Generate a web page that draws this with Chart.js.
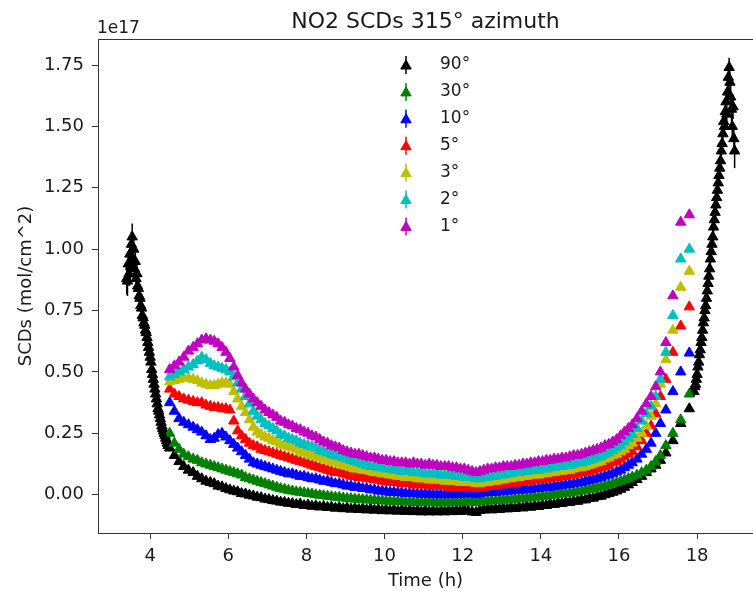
<!DOCTYPE html>
<html>
<head>
<meta charset="utf-8">
<script src="https://cdn.jsdelivr.net/npm/chart.js@4.4.1/dist/chart.umd.min.js"></script>
<style>
  html, body { margin: 0; padding: 0; background: #fff; overflow: hidden; width: 753px; height: 591px; }
  canvas { display: block; }
</style>
</head>
<body>
<canvas id="scd" width="762" height="591"></canvas>
<script>
// --- Data: NO2 slant columns, units of 1e17 molec/cm^2, time in hours ---
// elevation scan times (shared by the 1°..30° series and the 90° during scans)
const scanTimes = [
  4.50, 4.62, 4.74, 4.86, 4.98, 5.10, 5.21, 5.32, 5.43, 5.54,
  5.64, 5.74, 5.84, 5.94, 6.04, 6.14, 6.24, 6.34, 6.44, 6.54,
  6.64, 6.74, 6.84, 6.94, 7.04, 7.14, 7.24, 7.34, 7.44, 7.54,
  7.64, 7.74, 7.84, 7.94, 8.04, 8.14, 8.24, 8.34, 8.44, 8.54,
  8.64, 8.74, 8.84, 8.94, 9.04, 9.14, 9.24, 9.34, 9.44, 9.54,
  9.64, 9.74, 9.84, 9.94, 10.04, 10.14, 10.24, 10.34, 10.44, 10.54,
  10.64, 10.74, 10.84, 10.94, 11.04, 11.14, 11.24, 11.34, 11.44, 11.54,
  11.64, 11.74, 11.84, 11.94, 12.04, 12.14, 12.24, 12.34, 12.44, 12.54,
  12.64, 12.74, 12.84, 12.94, 13.04, 13.14, 13.24, 13.34, 13.44, 13.54,
  13.64, 13.74, 13.84, 13.94, 14.04, 14.14, 14.24, 14.34, 14.44, 14.54,
  14.64, 14.74, 14.84, 14.94, 15.04, 15.14, 15.24, 15.34, 15.44, 15.54,
  15.64, 15.74, 15.84, 15.94, 16.04, 16.14, 16.24, 16.34, 16.46, 16.58,
  16.70, 16.82, 16.94, 17.06, 17.20, 17.38, 17.58, 17.80
];

const scd1 = [
  0.51, 0.525, 0.54, 0.56, 0.585, 0.60, 0.615, 0.63, 0.635, 0.63,
  0.625, 0.615, 0.60, 0.58, 0.555, 0.52, 0.485, 0.455, 0.43, 0.41,
  0.39, 0.375, 0.36, 0.345, 0.335, 0.325, 0.315, 0.30, 0.295, 0.285,
  0.28, 0.27, 0.265, 0.255, 0.25, 0.24, 0.235, 0.225, 0.215, 0.21,
  0.20, 0.195, 0.19, 0.18, 0.175, 0.17, 0.165, 0.165, 0.16, 0.155,
  0.15, 0.15, 0.145, 0.14, 0.14, 0.135, 0.135, 0.13, 0.13, 0.13,
  0.125, 0.13, 0.125, 0.125, 0.12, 0.125, 0.12, 0.12, 0.115, 0.115,
  0.115, 0.11, 0.11, 0.105, 0.105, 0.10, 0.095, 0.09, 0.095, 0.10,
  0.105, 0.105, 0.11, 0.11, 0.115, 0.115, 0.115, 0.12, 0.12, 0.125,
  0.125, 0.13, 0.13, 0.135, 0.135, 0.14, 0.14, 0.145, 0.145, 0.15,
  0.15, 0.155, 0.16, 0.16, 0.165, 0.17, 0.175, 0.18, 0.185, 0.19,
  0.20, 0.205, 0.215, 0.225, 0.24, 0.255, 0.27, 0.285, 0.31, 0.34,
  0.37, 0.40, 0.44, 0.50, 0.62, 0.81, 1.11, 1.14
];
const scd2 = [
  0.48, 0.49, 0.50, 0.51, 0.52, 0.53, 0.545, 0.56, 0.55, 0.535,
  0.525, 0.52, 0.515, 0.51, 0.50, 0.48, 0.455, 0.43, 0.40, 0.37,
  0.34, 0.32, 0.305, 0.29, 0.28, 0.27, 0.26, 0.245, 0.24, 0.23,
  0.225, 0.22, 0.21, 0.205, 0.20, 0.195, 0.19, 0.18, 0.175, 0.17,
  0.165, 0.16, 0.155, 0.15, 0.145, 0.14, 0.135, 0.13, 0.125, 0.12,
  0.115, 0.115, 0.11, 0.11, 0.105, 0.105, 0.10, 0.10, 0.095, 0.095,
  0.095, 0.09, 0.09, 0.09, 0.085, 0.085, 0.085, 0.085, 0.08, 0.08,
  0.08, 0.08, 0.075, 0.075, 0.07, 0.07, 0.07, 0.065, 0.065, 0.07,
  0.07, 0.075, 0.075, 0.08, 0.08, 0.085, 0.085, 0.09, 0.09, 0.095,
  0.095, 0.10, 0.10, 0.10, 0.105, 0.105, 0.11, 0.11, 0.115, 0.115,
  0.12, 0.12, 0.125, 0.13, 0.13, 0.135, 0.14, 0.145, 0.15, 0.155,
  0.165, 0.17, 0.18, 0.19, 0.20, 0.215, 0.23, 0.245, 0.27, 0.30,
  0.33, 0.36, 0.40, 0.47, 0.58, 0.73, 0.96, 1.00
];
const scd3 = [
  0.46, 0.465, 0.47, 0.475, 0.475, 0.47, 0.465, 0.455, 0.45, 0.445,
  0.445, 0.45, 0.455, 0.455, 0.45, 0.42, 0.39, 0.36, 0.335, 0.305,
  0.275, 0.255, 0.245, 0.235, 0.23, 0.22, 0.215, 0.205, 0.20, 0.195,
  0.19, 0.185, 0.175, 0.17, 0.165, 0.16, 0.155, 0.15, 0.145, 0.14,
  0.135, 0.13, 0.125, 0.12, 0.115, 0.11, 0.105, 0.105, 0.10, 0.10,
  0.095, 0.09, 0.09, 0.085, 0.085, 0.08, 0.08, 0.075, 0.075, 0.07,
  0.07, 0.07, 0.065, 0.065, 0.065, 0.06, 0.06, 0.06, 0.06, 0.055,
  0.055, 0.055, 0.055, 0.05, 0.05, 0.05, 0.05, 0.045, 0.045, 0.05,
  0.05, 0.055, 0.055, 0.06, 0.06, 0.065, 0.065, 0.07, 0.07, 0.075,
  0.075, 0.08, 0.08, 0.08, 0.085, 0.085, 0.09, 0.09, 0.095, 0.095,
  0.10, 0.10, 0.105, 0.11, 0.11, 0.115, 0.12, 0.125, 0.13, 0.135,
  0.145, 0.15, 0.16, 0.165, 0.175, 0.185, 0.20, 0.21, 0.23, 0.25,
  0.28, 0.32, 0.37, 0.45, 0.55, 0.67, 0.845, 0.91
];
const scd5 = [
  0.43, 0.41, 0.40, 0.39, 0.385, 0.38, 0.375, 0.375, 0.365, 0.36,
  0.355, 0.355, 0.35, 0.35, 0.345, 0.30, 0.26, 0.24, 0.225, 0.21,
  0.20, 0.195, 0.185, 0.18, 0.175, 0.17, 0.165, 0.16, 0.155, 0.15,
  0.145, 0.14, 0.135, 0.13, 0.125, 0.12, 0.115, 0.11, 0.105, 0.10,
  0.095, 0.09, 0.09, 0.085, 0.08, 0.075, 0.075, 0.07, 0.07, 0.065,
  0.065, 0.06, 0.06, 0.055, 0.055, 0.05, 0.05, 0.05, 0.045, 0.045,
  0.045, 0.04, 0.04, 0.04, 0.04, 0.035, 0.035, 0.035, 0.035, 0.035,
  0.03, 0.03, 0.03, 0.03, 0.03, 0.03, 0.03, 0.025, 0.03, 0.03,
  0.035, 0.035, 0.035, 0.04, 0.04, 0.045, 0.045, 0.045, 0.05, 0.05,
  0.055, 0.055, 0.06, 0.06, 0.06, 0.065, 0.065, 0.07, 0.07, 0.075,
  0.075, 0.08, 0.08, 0.085, 0.09, 0.09, 0.095, 0.10, 0.105, 0.11,
  0.115, 0.12, 0.13, 0.135, 0.145, 0.155, 0.165, 0.175, 0.195, 0.22,
  0.25, 0.28, 0.33, 0.40, 0.47, 0.58, 0.687, 0.765
];
const scd10 = [
  0.375, 0.34, 0.31, 0.295, 0.285, 0.275, 0.265, 0.255, 0.24, 0.225,
  0.23, 0.245, 0.25, 0.235, 0.22, 0.205, 0.19, 0.175, 0.16, 0.145,
  0.13, 0.125, 0.12, 0.115, 0.11, 0.105, 0.10, 0.095, 0.09, 0.085,
  0.085, 0.08, 0.075, 0.075, 0.07, 0.065, 0.065, 0.06, 0.055, 0.055,
  0.05, 0.045, 0.045, 0.04, 0.035, 0.035, 0.03, 0.03, 0.025, 0.025,
  0.02, 0.02, 0.015, 0.015, 0.012, 0.01, 0.01, 0.008, 0.008, 0.005,
  0.005, 0.005, 0.003, 0.003, 0.002, 0.002, 0.0, 0.0, 0.0, 0.0,
  0.0, 0.0, 0.0, 0.002, 0.002, 0.005, 0.005, 0.0, 0.005, 0.008,
  0.008, 0.01, 0.01, 0.012, 0.012, 0.015, 0.015, 0.018, 0.018, 0.02,
  0.02, 0.022, 0.025, 0.025, 0.028, 0.03, 0.03, 0.033, 0.035, 0.038,
  0.04, 0.042, 0.045, 0.048, 0.05, 0.055, 0.058, 0.062, 0.066, 0.07,
  0.076, 0.08, 0.087, 0.093, 0.10, 0.11, 0.12, 0.13, 0.145, 0.165,
  0.185, 0.21, 0.25, 0.29, 0.345, 0.42, 0.50, 0.577
];
const scd30 = [
  0.25, 0.21, 0.185, 0.165, 0.155, 0.145, 0.14, 0.13, 0.125, 0.12,
  0.115, 0.11, 0.105, 0.10, 0.095, 0.09, 0.085, 0.08, 0.07, 0.065,
  0.06, 0.055, 0.05, 0.045, 0.04, 0.035, 0.03, 0.025, 0.022, 0.018,
  0.015, 0.012, 0.01, 0.008, 0.005, 0.003, 0.0, -0.002, -0.004, -0.006,
  -0.008, -0.01, -0.011, -0.013, -0.015, -0.016, -0.018, -0.019, -0.02, -0.021,
  -0.022, -0.023, -0.024, -0.025, -0.026, -0.027, -0.028, -0.028, -0.029, -0.03,
  -0.03, -0.031, -0.031, -0.032, -0.032, -0.032, -0.033, -0.033, -0.033, -0.033,
  -0.033, -0.033, -0.032, -0.032, -0.031, -0.03, -0.029, -0.032, -0.028, -0.027,
  -0.026, -0.025, -0.024, -0.023, -0.022, -0.021, -0.02, -0.018, -0.017, -0.015,
  -0.014, -0.012, -0.01, -0.009, -0.007, -0.005, -0.003, -0.001, 0.001, 0.003,
  0.005, 0.007, 0.01, 0.012, 0.015, 0.018, 0.021, 0.025, 0.028, 0.032,
  0.036, 0.04, 0.045, 0.05, 0.055, 0.06, 0.066, 0.072, 0.08, 0.09,
  0.10, 0.115, 0.135, 0.16, 0.20, 0.25, 0.305, 0.41
];
const scd90 = [
  0.19, 0.16, 0.135, 0.115, 0.10, 0.09, 0.075, 0.065, 0.055, 0.05,
  0.045, 0.035, 0.032, 0.025, 0.02, 0.015, 0.012, 0.005, 0.003, -0.002,
  -0.005, -0.01, -0.012, -0.018, -0.02, -0.024, -0.026, -0.03, -0.031, -0.035,
  -0.036, -0.04, -0.038, -0.044, -0.042, -0.047, -0.045, -0.05, -0.048, -0.052,
  -0.05, -0.055, -0.052, -0.057, -0.054, -0.059, -0.056, -0.06, -0.057, -0.062,
  -0.058, -0.063, -0.06, -0.065, -0.061, -0.066, -0.062, -0.067, -0.063, -0.068,
  -0.064, -0.069, -0.065, -0.07, -0.065, -0.07, -0.066, -0.07, -0.066, -0.07,
  -0.065, -0.069, -0.064, -0.068, -0.062, -0.066, -0.07, -0.072, -0.064, -0.062,
  -0.058, -0.062, -0.057, -0.06, -0.055, -0.058, -0.053, -0.056, -0.051, -0.054,
  -0.048, -0.051, -0.045, -0.048, -0.042, -0.044, -0.038, -0.04, -0.034, -0.036,
  -0.03, -0.032, -0.026, -0.027, -0.021, -0.021, -0.015, -0.014, -0.008, -0.006,
  0.0, 0.005, 0.01, 0.015, 0.022, 0.03, 0.04, 0.05, 0.062, 0.075,
  0.09, 0.105, 0.12, 0.14, 0.17, 0.22, 0.29, 0.35
];

// zenith-only measurements before and after the elevation scans
const zenithEarlyTimes = [
  3.40, 3.42, 3.44, 3.46, 3.48, 3.50, 3.52, 3.54, 3.56, 3.58,
  3.60, 3.62, 3.64, 3.66, 3.68, 3.70, 3.72, 3.74, 3.76, 3.78,
  3.80, 3.82, 3.84, 3.86, 3.88, 3.90, 3.92, 3.94, 3.96, 3.98,
  4.00, 4.02, 4.04, 4.06, 4.08, 4.10, 4.12, 4.14, 4.16, 4.18,
  4.20, 4.22, 4.24, 4.26, 4.28, 4.30, 4.32, 4.34, 4.36, 4.38,
  4.40, 4.42, 4.44, 4.46
];
const zenithEarly = [
  0.88, 0.87, 0.94, 0.90, 0.98, 0.93, 1.02, 1.05, 0.96, 1.00,
  0.92, 0.95, 0.88, 0.90, 0.85, 0.84, 0.81, 0.80, 0.77, 0.76,
  0.73, 0.72, 0.70, 0.69, 0.67, 0.66, 0.64, 0.62, 0.60, 0.58,
  0.56, 0.54, 0.51, 0.49, 0.47, 0.45, 0.43, 0.41, 0.39, 0.37,
  0.35, 0.34, 0.325, 0.31, 0.295, 0.28, 0.27, 0.26, 0.25, 0.24,
  0.23, 0.22, 0.21, 0.20
];
const zenithEarlyErr = [
  0.065, 0.06, 0.05, 0.05, 0.05, 0.05, 0.05, 0.055, 0.05, 0.05,
  0.045, 0.045, 0.045, 0.04, 0.04, 0.04, 0.04, 0.04, 0.035, 0.035,
  0.035, 0.035, 0.03, 0.03, 0.03, 0.03, 0.03, 0.03, 0.03, 0.03,
  0.025, 0.025, 0.025, 0.025, 0.025, 0.025, 0.02, 0.02, 0.02, 0.02,
  0.02, 0.02, 0.02, 0.02, 0.02, 0.02, 0.02, 0.015, 0.015, 0.015,
  0.015, 0.015, 0.015, 0.015
];
const zenithLateTimes = [
  17.92, 17.94, 17.96, 17.98, 18.00, 18.02, 18.04, 18.06, 18.08, 18.10,
  18.12, 18.14, 18.16, 18.18, 18.20, 18.22, 18.24, 18.26, 18.28, 18.30,
  18.32, 18.34, 18.36, 18.38, 18.40, 18.42, 18.44, 18.46, 18.48, 18.50,
  18.52, 18.54, 18.56, 18.58, 18.60, 18.62, 18.64, 18.66, 18.68, 18.70,
  18.72, 18.74, 18.76, 18.78, 18.80, 18.82, 18.84, 18.86, 18.88, 18.90,
  18.92, 18.94, 18.96
];
const zenithLate = [
  0.42, 0.44, 0.45, 0.47, 0.49, 0.52, 0.54, 0.57, 0.59, 0.62,
  0.64, 0.67, 0.70, 0.72, 0.75, 0.77, 0.80, 0.83, 0.86, 0.89,
  0.92, 0.96, 0.99, 1.02, 1.05, 1.09, 1.12, 1.15, 1.18, 1.21,
  1.24, 1.27, 1.30, 1.33, 1.36, 1.40, 1.43, 1.47, 1.52, 1.50,
  1.56, 1.60, 1.55, 1.64, 1.70, 1.74, 1.68, 1.62, 1.57, 1.50,
  1.58, 1.45, 1.40
];
const zenithLateErr = [
  0.02, 0.02, 0.02, 0.02, 0.02, 0.02, 0.02, 0.02, 0.025, 0.025,
  0.025, 0.025, 0.025, 0.025, 0.025, 0.025, 0.03, 0.03, 0.03, 0.03,
  0.03, 0.03, 0.03, 0.03, 0.03, 0.03, 0.035, 0.035, 0.035, 0.035,
  0.035, 0.035, 0.035, 0.035, 0.04, 0.04, 0.04, 0.04, 0.04, 0.04,
  0.04, 0.04, 0.045, 0.04, 0.04, 0.04, 0.045, 0.05, 0.05, 0.05,
  0.05, 0.06, 0.07
];

const angleLabels = ['90°', '30°', '10°', '5°', '3°', '2°', '1°'];
const angleColors = ['#000000', '#008000', '#0000ff', '#ff0000', '#bfbf00', '#00bfbf', '#bf00bf'];
const xTicks = [4, 6, 8, 10, 12, 14, 16, 18];
const yTicks = [0, 0.25, 0.5, 0.75, 1.0, 1.25, 1.5, 1.75];

// --- helpers ---
const FONT = '"DejaVu Sans", sans-serif';
const INK = '#1a1a1a';
const FRAME = '#333333';

function toPoints(times, vals) {
    return times.map((t, i) => ({ x: t, y: vals[i] }));
}

const zenithTimes = zenithEarlyTimes.concat(scanTimes, zenithLateTimes);
const zenithVals = zenithEarly.concat(scd90, zenithLate);
const zenithErr = zenithEarlyErr.concat(scanTimes.map(() => 0), zenithLateErr);

const seriesVals = [zenithVals, scd30, scd10, scd5, scd3, scd2, scd1];

function makeDataset(i) {
    const times = i === 0 ? zenithTimes : scanTimes;
    return {
        label: angleLabels[i],
        data: toPoints(times, seriesVals[i]),
        backgroundColor: angleColors[i],
        borderColor: angleColors[i],
        borderWidth: 1,
        pointStyle: 'triangle',
        pointRadius: 6,
        pointHoverRadius: 6,
        showLine: false,
        order: 6 - i // 1° drawn last (on top), like the matplotlib plot order
    };
}

// error bars, title, axis titles, offset text, legend inside the axes
const decorations = {
    id: 'decorations',
    afterDatasetsDraw(chart) {
        const { ctx, chartArea: a, scales: { x, y } } = chart;
        ctx.save();
        ctx.beginPath();
        ctx.rect(a.left, a.top, a.right - a.left, a.bottom - a.top);
        ctx.clip();
        ctx.strokeStyle = angleColors[0];
        ctx.lineWidth = 1.5;
        zenithTimes.forEach((t, i) => {
            if (!zenithErr[i]) return;
            const px = x.getPixelForValue(t);
            ctx.beginPath();
            ctx.moveTo(px, y.getPixelForValue(zenithVals[i] - zenithErr[i]));
            ctx.lineTo(px, y.getPixelForValue(zenithVals[i] + zenithErr[i]));
            ctx.stroke();
        });
        ctx.restore();
    },
    afterDraw(chart) {
        const { ctx, chartArea: a } = chart;
        const midX = 425.5; // centre of the axes as seen in the 753px window
        ctx.save();
        // top spine
        ctx.strokeStyle = FRAME;
        ctx.lineWidth = 1;
        ctx.beginPath();
        ctx.moveTo(a.left, a.top + 0.5);
        ctx.lineTo(a.right, a.top + 0.5);
        ctx.stroke();

        ctx.fillStyle = INK;
        ctx.textBaseline = 'alphabetic';
        ctx.font = '22px ' + FONT;
        ctx.textAlign = 'center';
        ctx.fillText('NO2 SCDs 315° azimuth', midX, 28);

        ctx.font = '17px ' + FONT;
        ctx.textAlign = 'left';
        ctx.fillText('1e17', 97, 33);

        ctx.font = '18px ' + FONT;
        ctx.textAlign = 'center';
        ctx.fillText('Time (h)', midX, 586);

        ctx.save();
        ctx.translate(31, (a.top + a.bottom) / 2);
        ctx.rotate(-Math.PI / 2);
        ctx.fillText('SCDs (mol/cm^2)', 0, 0);
        ctx.restore();

        // legend
        ctx.font = '17px ' + FONT;
        angleLabels.forEach((lab, i) => {
            const cx = 406, cy = 65 + i * 26.9;
            ctx.strokeStyle = angleColors[i];
            ctx.fillStyle = angleColors[i];
            ctx.lineWidth = 1.5;
            ctx.beginPath();
            ctx.moveTo(cx, cy - 9);
            ctx.lineTo(cx, cy + 9);
            ctx.stroke();
            ctx.lineWidth = 1;
            Chart.helpers.drawPoint(ctx, { pointStyle: 'triangle', radius: 6, rotation: 0, borderWidth: 1 }, cx, cy + 1);
            ctx.fillStyle = INK;
            ctx.textAlign = 'left';
            ctx.textBaseline = 'middle';
            ctx.fillText(lab, 440, cy);
        });
        ctx.restore();
    }
};

const axisCommon = {
    type: 'linear',
    border: { display: true, color: FRAME, width: 1 },
    grid: { drawOnChartArea: false, drawTicks: true, tickLength: 6, tickColor: FRAME, tickWidth: 1 }
};

new Chart(document.getElementById('scd'), {
    type: 'scatter',
    data: { datasets: angleLabels.map((_, i) => makeDataset(i)) },
    options: {
        responsive: false,
        animation: false,
        events: [],
        layout: { autoPadding: false, padding: { top: 39, left: 0, right: 6, bottom: 0 } },
        plugins: { legend: { display: false }, tooltip: { enabled: false } },
        scales: {
            x: {
                ...axisCommon,
                position: 'bottom',
                min: 2.665,
                max: 19.507,
                afterBuildTicks: axis => { axis.ticks = xTicks.map(v => ({ value: v })); },
                afterFit: s => { s.height = 58; },
                ticks: { color: INK, font: { family: FONT, size: 18 }, padding: 7, maxRotation: 0, autoSkip: false }
            },
            y: {
                ...axisCommon,
                position: 'left',
                min: -0.156,
                max: 1.856,
                afterBuildTicks: axis => { axis.ticks = yTicks.map(v => ({ value: v })); },
                afterFit: s => { s.width = 98; },
                ticks: { color: INK, font: { family: FONT, size: 18 }, padding: 8, callback: v => v.toFixed(2) }
            }
        }
    },
    plugins: [decorations]
});
</script>
</body>
</html>
